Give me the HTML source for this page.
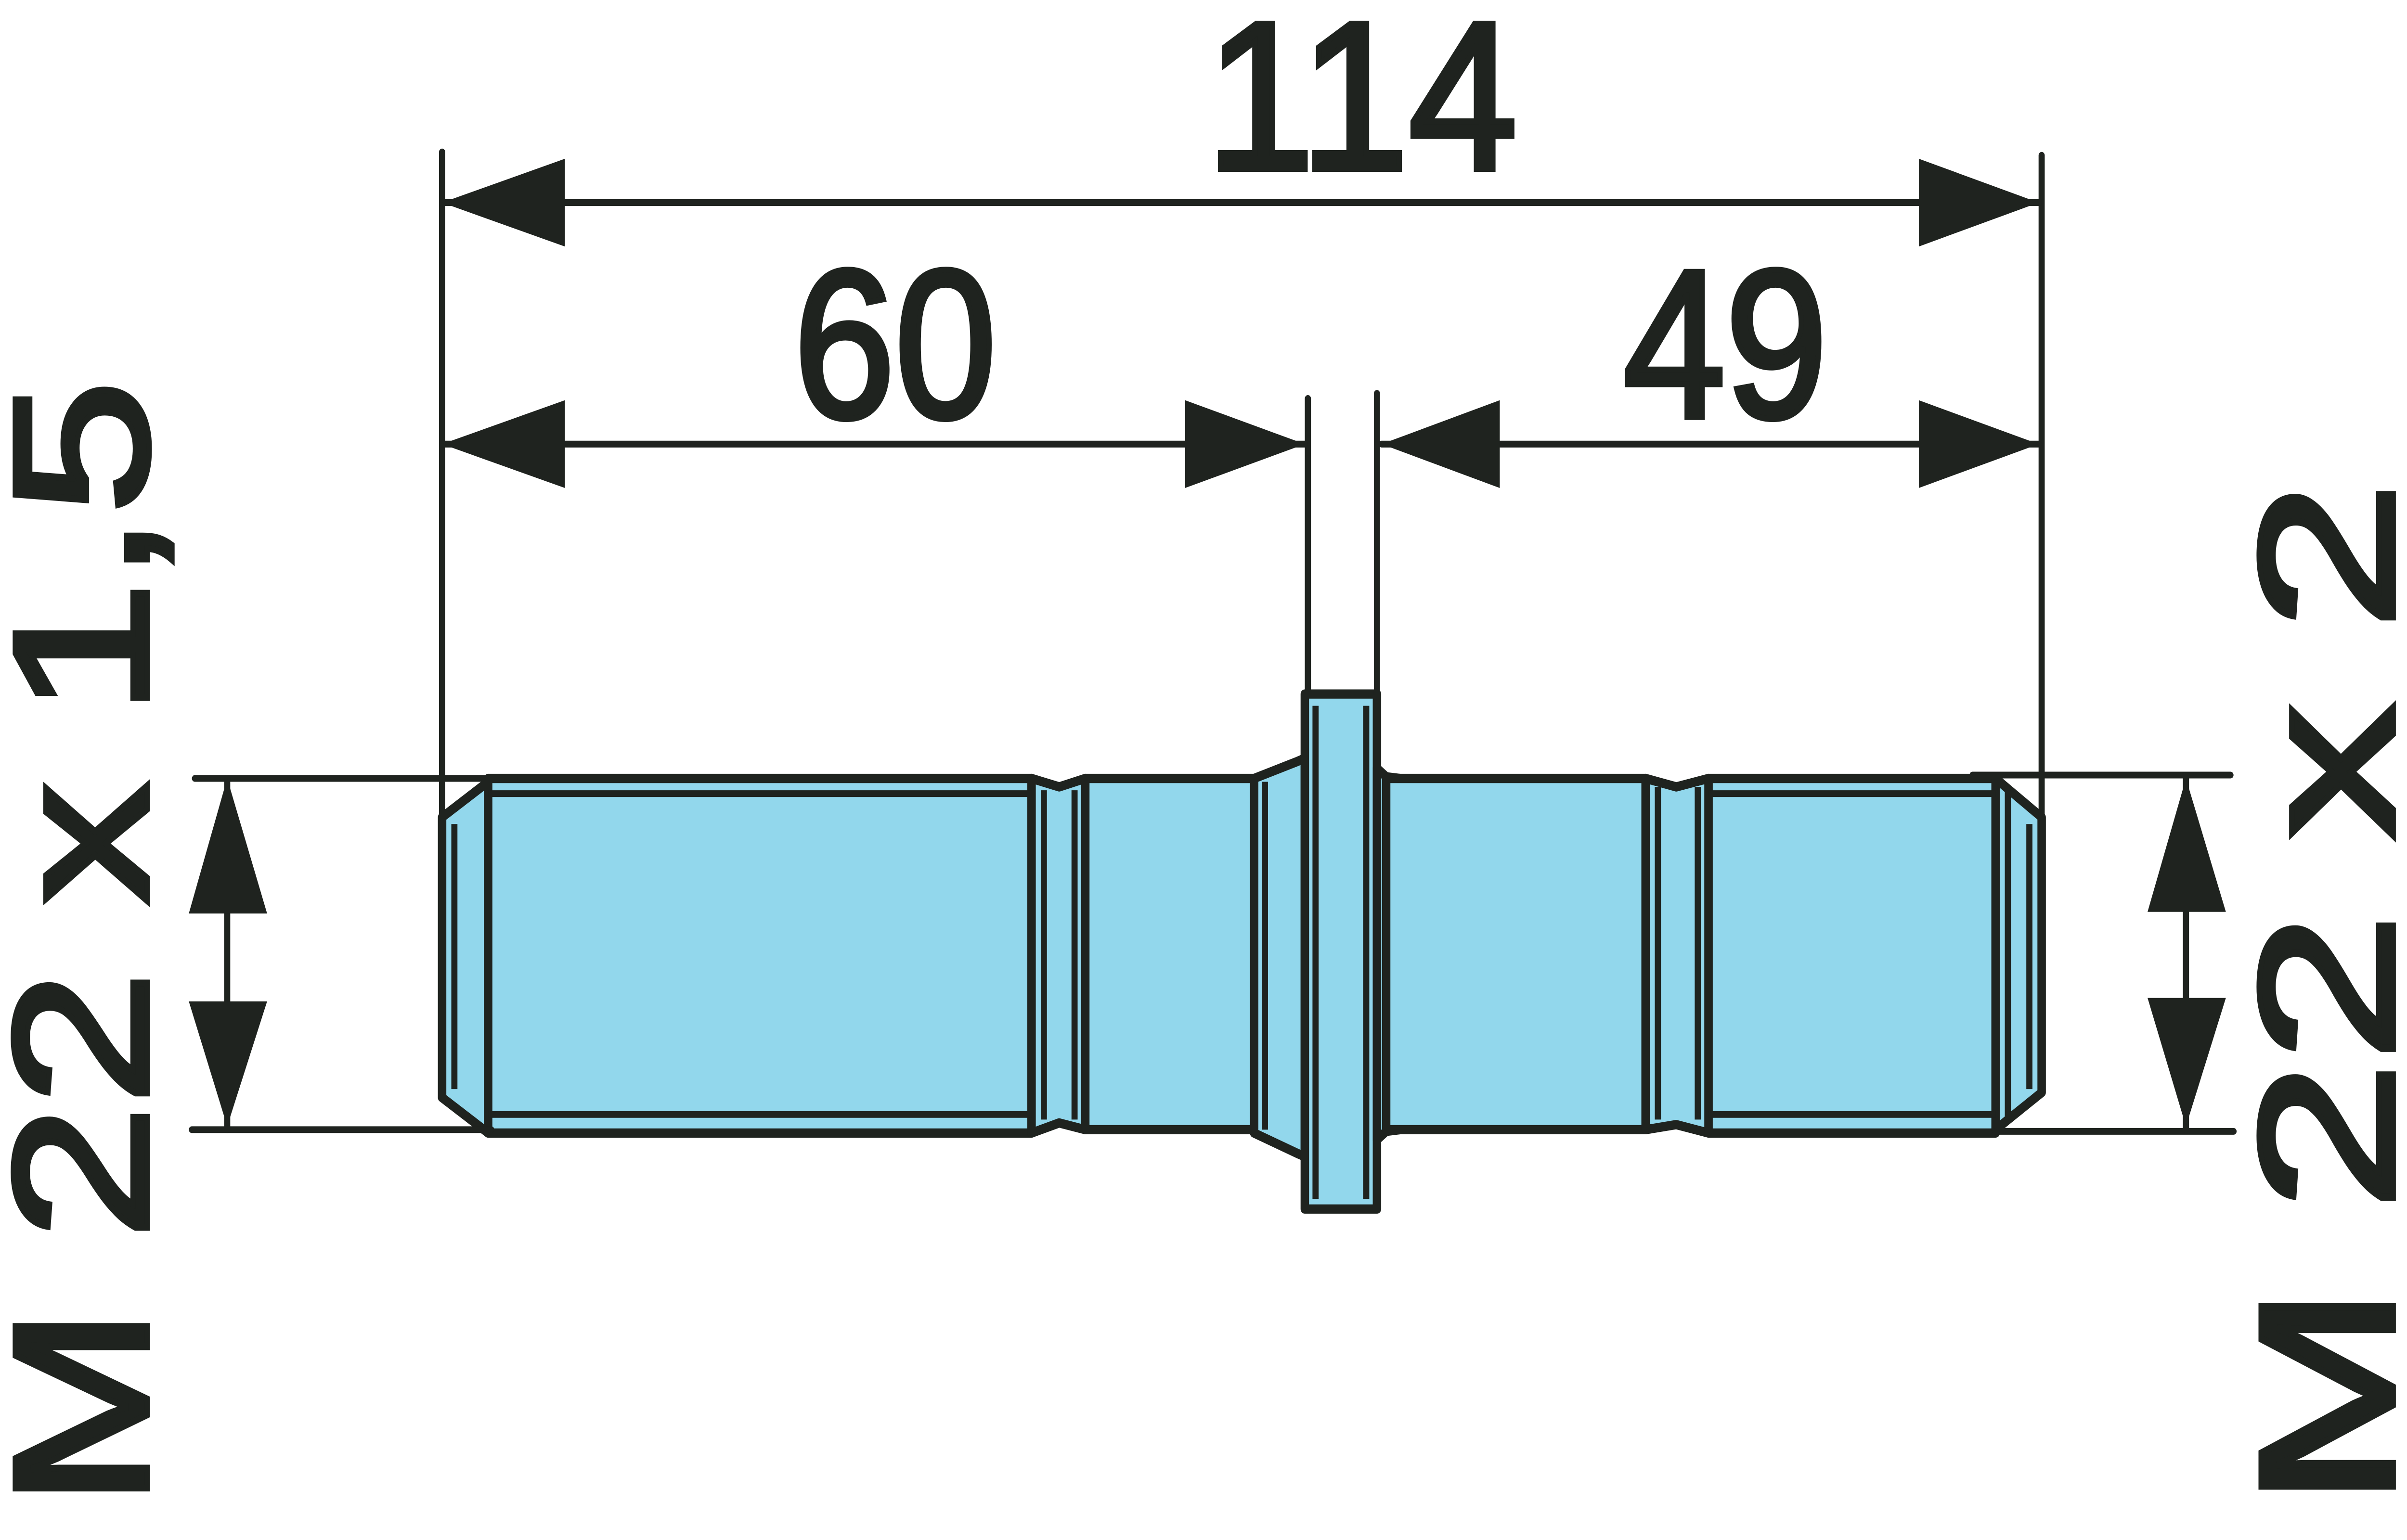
<!DOCTYPE html>
<html><head><meta charset="utf-8"><style>
html,body{margin:0;padding:0;background:#fff;overflow:hidden;width:100vw;height:100vh;}
svg{display:block;position:fixed;left:0;top:0;width:100vw;height:100vh;}
.t{font-family:"Liberation Sans",Arial,Helvetica,sans-serif;font-weight:normal;font-size:125px;fill:#1f231f;stroke:#1f231f;stroke-width:3.5px;stroke-linejoin:miter;}
</style></head><body>
<svg viewBox="0 0 1568 912" preserveAspectRatio="none" xmlns="http://www.w3.org/2000/svg">
<rect x="0" y="0" width="1568" height="912" fill="#fff"/>
<g stroke="#1f231f" stroke-width="5.5" stroke-linejoin="round" stroke-linecap="round" fill="#92d7ec">
<polygon points="288,484 318,463 318,671 288,650"/>
<rect x="318" y="461" width="354" height="210"/>
<polygon points="672,461 690,466 707,461 707,669 690,665 672,671"/>
<rect x="707" y="461" width="110" height="208"/>
<polygon points="817,461 845,451 850,449 850,685 845,683 817,671"/>
<rect x="850" y="411" width="47" height="305"/>
<polygon points="897,455 903,460 912,461 912,669 903,670 897,675"/>
<rect x="903" y="461" width="169" height="208"/>
<polygon points="1072,461 1092,466 1113,461 1113,671 1092,666 1072,669"/>
<rect x="1113" y="461" width="187" height="210"/>
<polygon points="1300,461 1330,484 1330,647 1300,669"/>
</g>
<g stroke="#1f231f" stroke-width="4" fill="none">
<line x1="318" y1="470" x2="672" y2="470"/>
<line x1="318" y1="660" x2="672" y2="660"/>
<line x1="1113" y1="470" x2="1300" y2="470"/>
<line x1="1113" y1="660" x2="1300" y2="660"/>
<line x1="680" y1="468" x2="680" y2="663"/>
<line x1="700" y1="468" x2="700" y2="663"/>
<line x1="824" y1="463" x2="824" y2="669"/>
<line x1="857" y1="418" x2="857" y2="710"/>
<line x1="890" y1="418" x2="890" y2="710"/>
<line x1="1080" y1="466" x2="1080" y2="663"/>
<line x1="1106" y1="466" x2="1106" y2="663"/>
<line x1="1308" y1="468" x2="1308" y2="663"/>
<line x1="296" y1="488" x2="296" y2="645"/>
<line x1="1322" y1="488" x2="1322" y2="645"/>
</g>
<g stroke="#1f231f" stroke-width="4" stroke-linecap="round">
<line x1="288" y1="90" x2="288" y2="484"/>
<line x1="1330" y1="92" x2="1330" y2="484"/>
<line x1="852" y1="236" x2="852" y2="411"/>
<line x1="897" y1="233" x2="897" y2="411"/>
<line x1="288" y1="120" x2="1328" y2="120"/>
<line x1="288" y1="263" x2="850" y2="263"/>
<line x1="900" y1="263" x2="1328" y2="263"/>
<line x1="127" y1="461" x2="335" y2="461"/>
<line x1="125" y1="669" x2="320" y2="669"/>
<line x1="148" y1="461" x2="148" y2="669"/>
<line x1="1285" y1="459" x2="1453" y2="459"/>
<line x1="1300" y1="670" x2="1455" y2="670"/>
<line x1="1424" y1="461" x2="1424" y2="669"/>
</g>
<g fill="#1f231f">
<polygon points="288,120 368,94 368,146"/>
<polygon points="1328,120 1250,94 1250,146"/>
<polygon points="288,263 368,237 368,289"/>
<polygon points="850,263 772,237 772,289"/>
<polygon points="900,263 977,237 977,289"/>
<polygon points="1328,263 1250,237 1250,289"/>
<polygon points="148,461 123,541 174,541"/>
<polygon points="148,667 123,593 174,593"/>
<polygon points="1424,461 1399,540 1450,540"/>
<polygon points="1424,667 1399,591 1450,591"/>
</g>
<text class="t" x="887" y="100" text-anchor="middle" textLength="203" lengthAdjust="spacingAndGlyphs">114</text>
<text class="t" x="583" y="247" text-anchor="middle" textLength="132" lengthAdjust="spacingAndGlyphs">60</text>
<text class="t" x="1124" y="247" text-anchor="middle" textLength="133" lengthAdjust="spacingAndGlyphs">49</text>
<text class="t" transform="translate(96,893) rotate(-90)" x="0" y="0" textLength="668" lengthAdjust="spacingAndGlyphs">M 22 x 1,5</text>
<text class="t" transform="translate(1559,893) rotate(-90)" x="0" y="0" textLength="608" lengthAdjust="spacingAndGlyphs">M 22 x 2</text>
</svg>
</body></html>
